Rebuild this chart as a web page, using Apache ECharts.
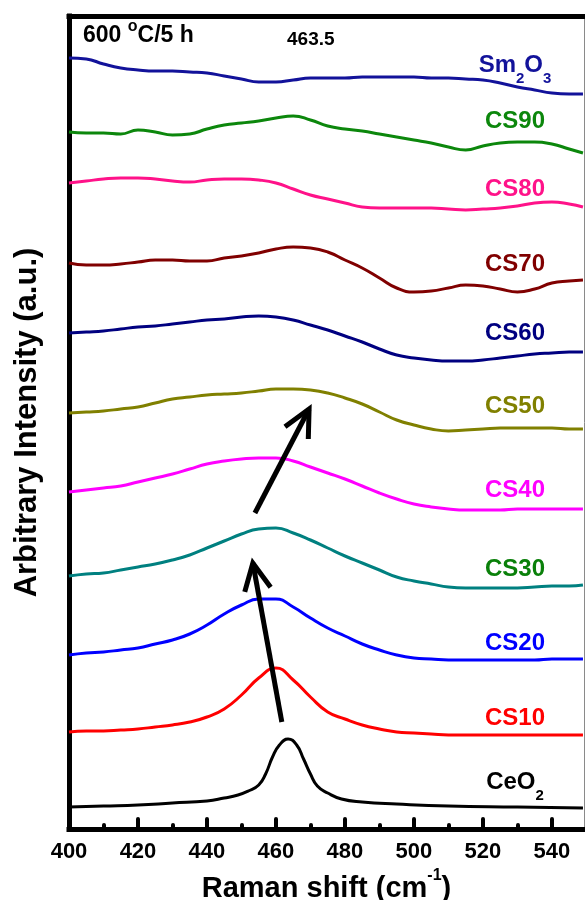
<!DOCTYPE html>
<html>
<head>
<meta charset="utf-8">
<script src="https://cdn.jsdelivr.net/npm/echarts@6/dist/echarts.min.js"></script>
<style>html,body{margin:0;padding:0;background:#fff}#c{width:585px;height:900px}</style>
</head>
<body>
<div id="c"></div>
<script>
// ---------- data (Raman shift in cm^-1, intensity in arbitrary stacked units) ----------
const ramanShift = [400,405,410,415,420,425,430,435,440,445,450,455,460,465,470,475,480,485,490,495,500,505,510,515,520,525,530,535,540,545,549];
const sm2o3 = [771,770,765,761,759,758,758,757,756,753,750,747,747,749,751,751,751,752,752,752,752,751,751,750,749,746,742,739,736,735,735];
const cs90  = [697,696,696,695,699,697,694,695,700,704,706,708,711,713,709,703,700,698,695,692,689,686,682,679,683,686,687,687,685,680,676];
const cs80  = [646,648,650,651,651,650,648,647,649,650,650,649,646,640,634,630,626,622,621,621,621,621,620,619,620,621,623,626,627,625,622];
const cs70  = [566,564,564,565,567,569,569,568,568,571,573,576,580,582,581,577,569,561,551,541,537,538,541,544,543,540,537,540,546,548,549];
const cs60  = [496,497,498,500,502,503,505,507,509,510,512,513,512,509,504,499,493,487,480,474,471,469,468,468,469,471,473,475,476,477,477];
const cs50  = [416,417,418,420,422,426,430,432,434,435,436,438,440,440,439,436,431,425,417,409,404,400,398,399,400,401,401,401,401,400,400];
const cs40  = [337,339,341,343,347,351,355,360,365,368,370,371,371,368,362,356,350,343,336,330,325,322,320,319,319,319,320,320,320,320,320];
const cs30  = [253,255,256,259,262,265,269,274,281,288,295,300,301,296,289,281,273,266,259,252,248,245,242,241,241,241,241,242,243,243,244];
const cs20  = [174,176,177,179,181,185,189,195,204,215,224,230,230,222,211,201,193,185,179,174,171,170,169,169,169,169,169,169,170,170,170];
const cs10  = [97,98,98,99,100,102,104,107,112,120,134,151,161,149,132,117,110,104,100,97,96,95,94,94,94,94,94,94,94,94,94];
const ceo2Shift = [400,410,420,430,440,445,449,452,455,457,459,461,463.5,466,468,470,472,475,479,485,495,510,530,549];
const ceo2  = [22,23,24,26,28,31,34,38,44,55,72,84,90,84,70,55,43,36,30,27,25,23,22,21];
const xMajorTicks = [400,420,440,460,480,500,520,540];
const xMinorTicks = [410,430,450,470,490,510,530];
const peakLabel = '463.5';

// ---------- styling ----------
const FONT = '"Liberation Sans", Arial, Helvetica, sans-serif';
const LABEL_X = 529.3;
const seriesDefs = [
  {name:'Sm2O3', x:ramanShift, y:sm2o3, color:'#12129a', labelColor:'#12129a', labelY:764, text:'{a|Sm}{s|2}{a|O}{s|3}'},
  {name:'CS90', x:ramanShift, y:cs90, color:'#0c870c', labelColor:'#0c870c', labelY:708, text:'{a|CS90}'},
  {name:'CS80', x:ramanShift, y:cs80, color:'#ff1289', labelColor:'#ff1289', labelY:639.5, text:'{a|CS80}'},
  {name:'CS70', x:ramanShift, y:cs70, color:'#800000', labelColor:'#800000', labelY:564.5, text:'{a|CS70}'},
  {name:'CS60', x:ramanShift, y:cs60, color:'#000080', labelColor:'#000080', labelY:496, text:'{a|CS60}'},
  {name:'CS50', x:ramanShift, y:cs50, color:'#808000', labelColor:'#808000', labelY:422.5, text:'{a|CS50}'},
  {name:'CS40', x:ramanShift, y:cs40, color:'#ff00ff', labelColor:'#ff00ff', labelY:338.5, text:'{a|CS40}'},
  {name:'CS30', x:ramanShift, y:cs30, color:'#008080', labelColor:'#0a800a', labelY:260, text:'{a|CS30}'},
  {name:'CS20', x:ramanShift, y:cs20, color:'#0000ff', labelColor:'#0000ff', labelY:185.5, text:'{a|CS20}'},
  {name:'CS10', x:ramanShift, y:cs10, color:'#ff0000', labelColor:'#ff0000', labelY:110.5, text:'{a|CS10}'},
  {name:'CeO2', x:ceo2Shift, y:ceo2, color:'#000000', labelColor:'#000000', labelY:46.5, text:'{a|CeO}{s|2}'}
];

const chart = echarts.init(document.getElementById('c'), null, {renderer:'canvas'});

const series = seriesDefs.map(d => ({
  name: d.name,
  type: 'line',
  data: d.x.map((v, i) => [v, d.y[i]]),
  smooth: 0.5,
  showSymbol: false,
  symbol: 'none',
  lineStyle: {color: d.color, width: 3},
  itemStyle: {color: d.color},
  z: 3,
  markPoint: {
    symbol: 'circle',
    symbolSize: 0,
    silent: true,
    data: [{coord: [LABEL_X, d.labelY]}],
    label: {
      show: true,
      position: 'inside',
      formatter: d.text,
      rich: {
        a: {fontFamily: FONT, fontWeight: 'bold', fontSize: 24, lineHeight: 24, color: d.labelColor},
        s: {fontFamily: FONT, fontWeight: 'bold', fontSize: 15, lineHeight: 15, padding: [27, 0, 0, 0], color: d.labelColor}
      }
    }
  }
}));

const option = {
  animation: false,
  backgroundColor: '#ffffff',
  grid: {left: 69, right: 1, top: 16, bottom: 71, containLabel: false, outerBoundsMode: 'none'},
  xAxis: [
    {
      type: 'value', min: 400, max: 549.3, interval: 20, position: 'bottom',
      axisLine: {show: true, lineStyle: {color: '#000', width: 5, cap: 'square'}},
      axisTick: {show: true, inside: true, length: 10, customValues: xMajorTicks, lineStyle: {color: '#000', width: 4, cap: 'round'}},
      axisLabel: {show: true, customValues: xMajorTicks, margin: 12, color: '#000', fontFamily: FONT, fontWeight: 'bold', fontSize: 22,
        formatter: v => (v % 20 === 0 ? String(v) : '')},
      splitLine: {show: false},
      name: 'Raman shift (cm{s|-1})', nameLocation: 'middle', nameGap: 33,
      nameTextStyle: {color: '#000', fontFamily: FONT, fontWeight: 'bold', fontSize: 29, lineHeight: 29,
        rich: {s: {color: '#000', fontFamily: FONT, fontWeight: 'bold', fontSize: 16, lineHeight: 16, padding: [0, 0, 26, 0]}}}
    },
    {
      type: 'value', min: 400, max: 549.3, interval: 10, position: 'bottom',
      axisLine: {show: false},
      axisTick: {show: true, inside: true, length: 4, customValues: xMinorTicks, lineStyle: {color: '#000', width: 4, cap: 'round'}},
      axisLabel: {show: false},
      splitLine: {show: false}
    },
    {
      type: 'value', min: 400, max: 549.3, position: 'top',
      axisLine: {show: true, lineStyle: {color: '#000', width: 5, cap: 'square'}},
      axisTick: {show: false}, axisLabel: {show: false}, splitLine: {show: false}
    }
  ],
  yAxis: [
    {
      type: 'value', min: 0, max: 813, position: 'left',
      axisLine: {show: true, lineStyle: {color: '#000', width: 5, cap: 'square'}},
      axisTick: {show: false}, axisLabel: {show: false}, splitLine: {show: false},
      name: 'Arbitrary Intensity (a.u.)', nameLocation: 'middle', nameGap: 26,
      nameTextStyle: {color: '#000', fontFamily: FONT, fontWeight: 'bold', fontSize: 31}
    },
    {
      type: 'value', min: 0, max: 813, position: 'right',
      axisLine: {show: true, lineStyle: {color: '#8a8a8a', width: 1}},
      axisTick: {show: false}, axisLabel: {show: false}, splitLine: {show: false}
    }
  ],
  series: series
};
chart.setOption(option);

// ---------- annotations: arrows in data coordinates, texts ----------
const arrows = [
  {from: [461.7, 107], to: [453.3, 266]},
  {from: [453.9, 316], to: [469.6, 420]}
];
function arrowEls(a) {
  const p0 = chart.convertToPixel({gridIndex: 0}, a.from);
  const p1 = chart.convertToPixel({gridIndex: 0}, a.to);
  const dx = p1[0] - p0[0], dy = p1[1] - p0[1];
  const len = Math.hypot(dx, dy);
  const bx = -dx / len, by = -dy / len;
  const ang = 26 * Math.PI / 180, L = 30;
  const c = Math.cos(ang), s = Math.sin(ang);
  const w1 = [p1[0] + L * (bx * c - by * s), p1[1] + L * (bx * s + by * c)];
  const w2 = [p1[0] + L * (bx * c + by * s), p1[1] + L * (-bx * s + by * c)];
  const st = {stroke: '#000', lineWidth: 5, fill: null, lineJoin: 'miter', lineCap: 'butt'};
  return [
    {type: 'polyline', silent: true, z: 10, shape: {points: [p0, p1]}, style: st},
    {type: 'polyline', silent: true, z: 10, shape: {points: [w1, p1, w2]}, style: st}
  ];
}
const graphicEls = [];
arrows.forEach(a => graphicEls.push(...arrowEls(a)));
graphicEls.push({
  type: 'text', silent: true, z: 10,
  style: {
    x: 83, y: 36, verticalAlign: 'middle', align: 'left',
    text: '{a|600 }{o|o}{a|C/5 h}',
    rich: {
      a: {fontFamily: FONT, fontWeight: 'bold', fontSize: 23, lineHeight: 23, fill: '#000'},
      o: {fontFamily: FONT, fontWeight: 'bold', fontSize: 16, lineHeight: 16, padding: [0, 0, 18, 0], fill: '#000'}
    }
  }
});
graphicEls.push({
  type: 'text', silent: true, z: 10,
  style: {x: 287, y: 40, verticalAlign: 'middle', align: 'left', text: peakLabel,
    fontFamily: FONT, fontWeight: 'bold', fontSize: 19, fill: '#000'}
});
chart.setOption({graphic: {elements: graphicEls}});
</script>
</body>
</html>
